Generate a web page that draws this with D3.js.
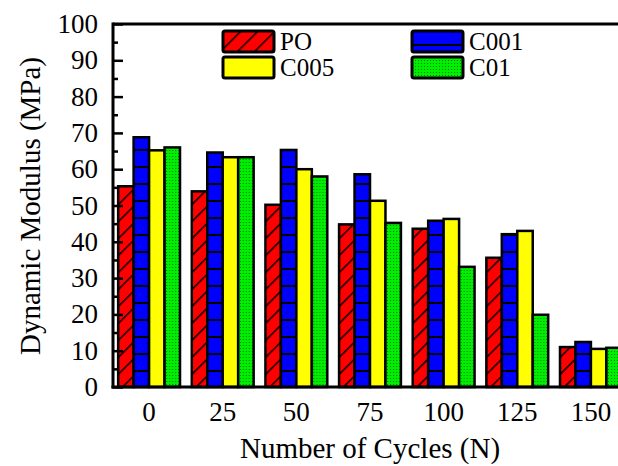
<!DOCTYPE html>
<html>
<head>
<meta charset="utf-8">
<script src="https://cdn.jsdelivr.net/npm/d3@7"></script>
<style>
  body { margin: 0; background: #fff; }
  svg text { font-family: "Liberation Serif", "Times New Roman", serif; font-weight: normal; }
</style>
</head>
<body>
<div id="chart"></div>
<script>
// data
var cycles = ['0', '25', '50', '75', '100', '125', '150'];
var seriesNames = ['PO', 'C001', 'C005', 'C01'];
var valuesPO   = [55.3, 53.9, 50.2, 44.8, 43.6, 35.6, 11.0];
var valuesC001 = [68.8, 64.6, 65.3, 58.6, 45.8, 42.1, 12.4];
var valuesC005 = [65.2, 63.3, 60.0, 51.3, 46.3, 43.0, 10.5];
var valuesC01  = [66.0, 63.3, 58.0, 45.2, 33.1, 19.9, 10.8];
var yTicks = [0, 10, 20, 30, 40, 50, 60, 70, 80, 90, 100];

var allValues = [valuesPO, valuesC001, valuesC005, valuesC01];

var chartW = 618, chartH = 466;
var plotLeft = 113, plotTop = 24, plotBottom = 387;

var svg = d3.select('#chart').append('svg')
  .attr('width', chartW)
  .attr('height', chartH);

// patterns
var defs = svg.append('defs');

var pHatch = defs.append('pattern')
  .attr('id', 'hatch')
  .attr('patternUnits', 'userSpaceOnUse')
  .attr('width', 12).attr('height', 12)
  .attr('patternTransform', 'rotate(45)');
pHatch.append('rect').attr('width', 12).attr('height', 12).attr('fill', '#ff0000');
pHatch.append('line')
  .attr('x1', 0).attr('y1', 0).attr('x2', 0).attr('y2', 12)
  .attr('stroke', '#000').attr('stroke-width', 3);

var pBlue = defs.append('pattern')
  .attr('id', 'blues')
  .attr('patternUnits', 'userSpaceOnUse')
  .attr('x', 0).attr('y', plotBottom)
  .attr('width', 20).attr('height', 17);
pBlue.append('rect').attr('width', 20).attr('height', 17).attr('fill', '#0000ff');
pBlue.append('line')
  .attr('x1', 0).attr('y1', 1).attr('x2', 20).attr('y2', 1)
  .attr('stroke', '#000').attr('stroke-width', 2);

var pGreen = defs.append('pattern')
  .attr('id', 'greens')
  .attr('patternUnits', 'userSpaceOnUse')
  .attr('width', 3).attr('height', 3);
pGreen.append('rect').attr('width', 3).attr('height', 3).attr('fill', '#00ee00');
pGreen.append('rect').attr('width', 1).attr('height', 1).attr('fill', '#007a00');

var fills = ['url(#hatch)', 'url(#blues)', '#ffff00', 'url(#greens)'];

// scales
var x0 = d3.scaleBand()
  .domain(cycles)
  .range([plotLeft, 627])
  .paddingInner(0.16)
  .paddingOuter(0.07);

var x1 = d3.scaleBand()
  .domain(seriesNames)
  .range([0, x0.bandwidth()])
  .padding(0);

var y = d3.scaleLinear()
  .domain([0, 100])
  .range([plotBottom, plotTop]);

// bars
var groups = svg.append('g').selectAll('g')
  .data(cycles)
  .enter()
  .append('g')
  .attr('transform', function (d) { return 'translate(' + x0(d) + ',0)'; });

groups.selectAll('rect')
  .data(function (d, i) {
    return seriesNames.map(function (s, k) {
      return { series: s, k: k, value: allValues[k][i] };
    });
  })
  .enter()
  .append('rect')
  .attr('x', function (d) { return x1(d.series); })
  .attr('y', function (d) { return y(d.value); })
  .attr('width', x1.bandwidth())
  .attr('height', function (d) { return y(0) - y(d.value); })
  .attr('fill', function (d) { return fills[d.k]; })
  .attr('stroke', '#000')
  .attr('stroke-width', 2.5);

// frame
svg.append('line')
  .attr('x1', plotLeft).attr('y1', plotTop).attr('x2', chartW).attr('y2', plotTop)
  .attr('stroke', '#000').attr('stroke-width', 3);
svg.append('line')
  .attr('x1', plotLeft - 1.5).attr('y1', plotBottom).attr('x2', chartW).attr('y2', plotBottom)
  .attr('stroke', '#000').attr('stroke-width', 3);

// y axis, ticks inward
var yAxis = d3.axisRight(y)
  .tickValues(d3.range(0, 101, 5))
  .tickSize(10)
  .tickFormat('');
var yG = svg.append('g')
  .attr('transform', 'translate(' + plotLeft + ',0)')
  .call(yAxis);
yG.select('.domain')
  .attr('stroke-width', 3)
  .attr('d', 'M0,' + (plotTop - 1.5) + 'V' + (plotBottom + 1.5));
yG.selectAll('.tick line')
  .attr('stroke-width', 2.5)
  .attr('x2', function (d) { return d % 10 === 0 ? 10 : 5; });

svg.append('g').selectAll('text')
  .data(yTicks)
  .enter()
  .append('text')
  .attr('x', 98)
  .attr('y', function (d) { return y(d) + 9; })
  .attr('text-anchor', 'end')
  .attr('font-size', '27px')
  .attr('fill', '#000')
  .text(function (d) { return d; });

// x labels
svg.append('g').selectAll('text')
  .data(cycles)
  .enter()
  .append('text')
  .attr('x', function (d) { return x0(d) + x0.bandwidth() / 2; })
  .attr('y', 421)
  .attr('text-anchor', 'middle')
  .attr('font-size', '27px')
  .attr('fill', '#000')
  .text(function (d) { return d; });

// axis titles
svg.append('text')
  .attr('x', 370)
  .attr('y', 458)
  .attr('text-anchor', 'middle')
  .attr('font-size', '29px')
  .text('Number of Cycles (N)');

svg.append('text')
  .attr('transform', 'translate(40,206) rotate(-90)')
  .attr('text-anchor', 'middle')
  .attr('font-size', '29px')
  .text('Dynamic Modulus (MPa)');

// legend
var legendPos = [[223, 31], [412, 31], [223, 57], [412, 57]];
var legend = svg.append('g').selectAll('g')
  .data(seriesNames)
  .enter()
  .append('g')
  .attr('transform', function (d, i) {
    return 'translate(' + legendPos[i][0] + ',' + legendPos[i][1] + ')';
  });

legend.append('rect')
  .attr('width', 51)
  .attr('height', 21)
  .attr('rx', 2)
  .attr('fill', function (d, i) { return fills[i]; })
  .attr('stroke', '#000')
  .attr('stroke-width', 3);

legend.append('text')
  .attr('x', 57)
  .attr('y', 19)
  .attr('font-size', '25px')
  .text(function (d) { return d; });
</script>
</body>
</html>
